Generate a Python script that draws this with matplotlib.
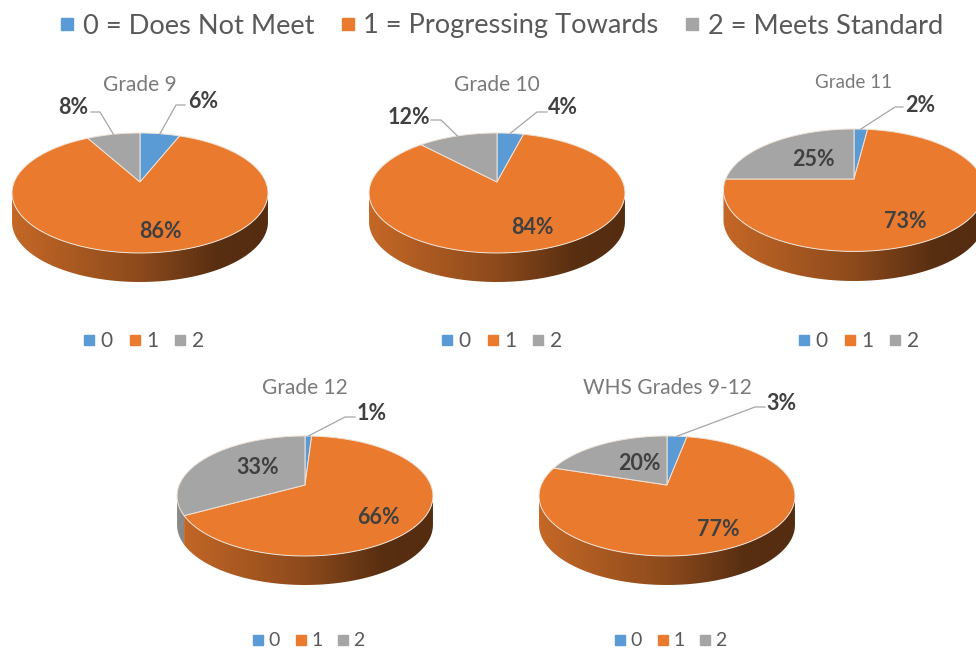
import numpy as np
import matplotlib
matplotlib.use("Agg")
import matplotlib.pyplot as plt
from matplotlib.colors import to_rgb
from matplotlib.lines import Line2D
from matplotlib.patches import Polygon

plt.rcParams["font.family"] = ["Lato", "DejaVu Sans"]

###############################################################################
# Data
###############################################################################
titles                          = ["Grade 9", "Grade 10", "Grade 11", "Grade 12", "WHS Grades 9-12"]
categories                      = ["0", "1", "2"]
legend_names                    = ["0 = Does Not Meet", "1 = Progressing Towards", "2 = Meets Standard"]
grade_9                         = [6, 86, 8]
grade_10                        = [4, 84, 12]
grade_11                        = [2, 73, 25]
grade_12                        = [1, 66, 33]
whs_all                         = [3, 77, 20]

###############################################################################
# Layout, in pixels of the 976x651 picture
###############################################################################
W, H                            = 976, 651
colors                          = ["#5B9BD5", "#EA7B2E", "#A5A5A5"]
text_color                      = "#404040"
apex                            = [(140, 182), (497, 182), (854, 179), (305, 485), (667, 485)]
pie_scale                       = [1, 1, 1.02, 1, 1]
title_size                      = [15, 15, 13.5, 15, 15]
title_pos                       = [(140, 85), (497, 85), (854, 82), (305, 388), (667, 388)]
label_pos                       = [[(203, 101), (160, 231), (73, 108)],
                                   [(563, 107), (532, 228), (409, 117)],
                                   [(920, 105), (905, 221), (813, 160)],
                                   [(372, 413), (378, 518), (258, 468)],
                                   [(781, 404), (718, 529), (639, 464)]]
# leader lines: which slice, elbow and end point
leaders                         = [[(0, (176, 105), (185, 105)), (2, (100, 112), (91, 112))],
                                   [(0, (537, 112), (547, 112)), (2, (441, 120), (431, 120))],
                                   [(0, (895, 107), (903, 107))],
                                   [(0, (345, 417), (355, 417))],
                                   [(0, (755, 407), (765, 407))]]
legend_center                   = [(144, 341), (502, 341), (859, 341), (309, 641), (671, 641)]
legend_size                     = [15, 15, 15, 14, 14]

R, S, K, DEPTH                  = 125.8, 58.0, 0.183, 29.0


def project(a, scale = 1):
    # a is clockwise from the top of the disc, radians. Returns the tilted rim
    w = 1 + K * np.cos(a)
    return scale * R * np.sin(a) / w, scale * S * np.cos(a) / w


def side_image(color):
    base = np.array(to_rgb(color))
    shade = np.interp(np.linspace(0, 1, 256), [0, 0.5, 0.8, 1], [0.84, 0.6, 0.38, 0.36])
    return (shade[:, None] * base)[None, :, :]


def draw_pie(ax, values, scale):
    edges = np.radians(np.concatenate([[0], np.cumsum(values)]) * 3.6)
    x_edge = scale * R / np.sqrt(1 - K**2)
    front = np.arccos(-K)
    for i, color in enumerate(colors):
        lo, hi = max(edges[i], front), min(edges[i + 1], 2 * np.pi - front)
        if hi > lo:
            x, y = project(np.linspace(lo, hi, 120), scale)
            band = np.column_stack([np.r_[x, x[::-1]], np.r_[y, y[::-1] - scale * DEPTH]])
            im = ax.imshow(side_image(color), extent = (-x_edge, x_edge, -110, 0),
                           aspect = "auto", interpolation = "bilinear", zorder = 1)
            im.set_clip_path(Polygon(band, transform = ax.transData))
        t = np.linspace(edges[i], edges[i + 1], 200)
        x, y = project(t, scale)
        ax.fill(np.r_[0, x], np.r_[0, y], facecolor = color, edgecolor = "#EFE3D8",
                linewidth = 0.7, zorder = 2)
    return edges


fig = plt.figure(figsize = (W / 100, H / 100), dpi = 100)

for n, values in enumerate([grade_9, grade_10, grade_11, grade_12, whs_all]):
    ax_x, ax_y = apex[n]
    ax = fig.add_axes([(ax_x - 178) / W, (H - ax_y - 170) / H, 356 / W, 285 / H])
    edges = draw_pie(ax, values, pie_scale[n])
    ax.set_xlim(-178, 178)
    ax.set_ylim(-170, 115)
    ax.axis("off")

    ax.text(title_pos[n][0] - ax_x, ax_y - title_pos[n][1], titles[n], ha = "center", va = "center",
            fontsize = title_size[n], color = "#7A7A7A", clip_on = False)
    for v, (px, py) in zip(values, label_pos[n]):
        ax.text(px - ax_x, ax_y - py, f"{v}%", ha = "center", va = "center", fontsize = 15.5,
                fontweight = "bold", color = text_color, zorder = 4)
    for i, elbow, end in leaders[n]:
        sx, sy = project((edges[i] + edges[i + 1]) / 2, pie_scale[n])
        ax.plot([sx, elbow[0] - ax_x, end[0] - ax_x], [sy, ax_y - elbow[1], ax_y - end[1]],
                color = "#A6A6A6", linewidth = 0.9, zorder = 3)

    handles = [Line2D([], [], linestyle = "none", marker = "s", markersize = 7.5, color = c) for c in colors]
    ax.legend(handles, categories, ncol = 3, frameon = False, loc = "center",
              bbox_to_anchor = (legend_center[n][0] - ax_x, ax_y - legend_center[n][1]),
              bbox_transform = ax.transData, fontsize = legend_size[n], labelcolor = "#595959",
              handlelength = 0.5, handletextpad = 0.3, columnspacing = 0.8, borderpad = 0)

top_handles = [Line2D([], [], linestyle = "none", marker = "s", markersize = 8.5, color = c) for c in colors]
fig.legend(top_handles, legend_names, ncol = 3, frameon = False, loc = "center",
           bbox_to_anchor = (502 / W, (H - 26) / H), fontsize = 19.6, labelcolor = "#595959",
           handlelength = 0.45, handletextpad = 0.35, columnspacing = 1.0, borderpad = 0)

fig.savefig("out.png", dpi = 100)
